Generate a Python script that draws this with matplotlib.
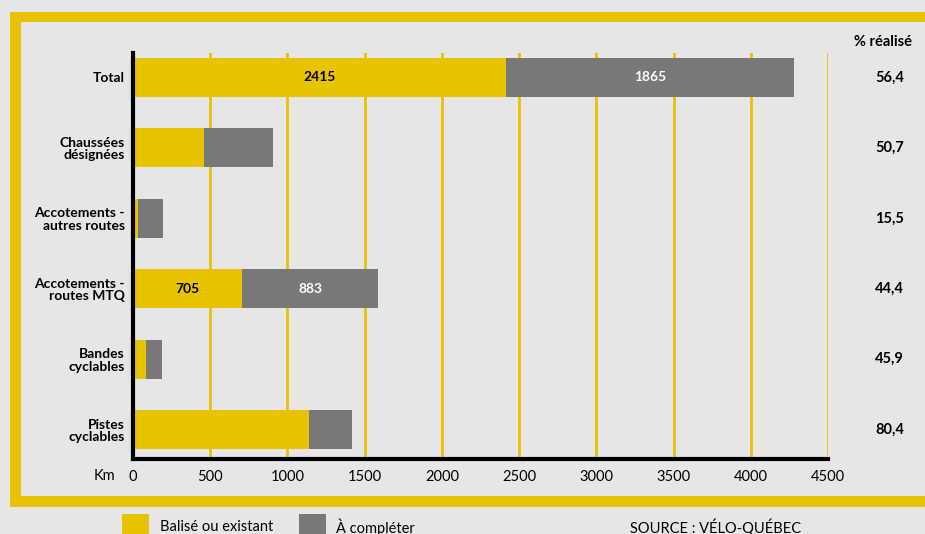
import matplotlib
matplotlib.use("Agg")
import matplotlib.pyplot as plt
from matplotlib.patches import Rectangle

# data
categories = ["Total", "Chaussées\ndésignées", "Accotements -\nautres routes",
              "Accotements -\nroutes MTQ", "Bandes\ncyclables", "Pistes\ncyclables"]
balise = [2415, 459, 30, 705, 85, 1140]
a_completer = [1865, 446, 164, 883, 100, 278]
pct_realise = ["56,4", "50,7", "15,5", "44,4", "45,9", "80,4"]
# only some bars carry their values
labelled = [0, 3]
xticks = [0, 500, 1000, 1500, 2000, 2500, 3000, 3500, 4000, 4500]

YELLOW = "#E8C300"
GREY = "#787878"
BG = "#E6E6E6"

plt.rcParams["font.family"] = ["Lato", "DejaVu Sans"]

fig = plt.figure(figsize=(9.25, 5.34), dpi=100)
fig.patch.set_facecolor(BG)

# yellow frame
fig.patches.append(Rectangle((10 / 925, 27 / 534), 1.0, 495 / 534,
                             transform=fig.transFigure, facecolor=YELLOW,
                             edgecolor="none", zorder=-2))
fig.patches.append(Rectangle((21 / 925, 38 / 534), 1.0, 474 / 534,
                             transform=fig.transFigure, facecolor=BG,
                             edgecolor="none", zorder=-1))

ax = fig.add_axes([133 / 925, 75 / 534, 695 / 925, 406 / 534])
ax.set_zorder(1)
ax.set_facecolor("none")

y = list(range(len(categories)))
ax.barh(y, balise, height=0.555, color=YELLOW, zorder=3)
ax.barh(y, a_completer, left=balise, height=0.555, color=GREY, zorder=3)

for i in labelled:
    ax.text(balise[i] / 2, i, str(balise[i]), ha="center", va="center",
            fontsize=10, fontweight="bold", color="black", zorder=4)
    ax.text(balise[i] + a_completer[i] / 2, i, str(a_completer[i]),
            ha="center", va="center", fontsize=10, fontweight="bold",
            color="white", zorder=4)

for x in xticks[1:]:
    ax.axvline(x, color=YELLOW, lw=2, zorder=1)

ax.set_xlim(0, 4500)
ax.set_ylim(5.419, -0.348)
ax.set_xticks(xticks)
ax.set_xticklabels([str(v) for v in xticks], fontsize=10.5)
ax.set_yticks(y)
ax.set_yticklabels(categories, fontsize=10, fontweight="bold", linespacing=1.05)
ax.tick_params(axis="x", length=0, pad=8)
ax.tick_params(axis="y", length=0, pad=6)

for s in ["top", "right"]:
    ax.spines[s].set_visible(False)
for s in ["left", "bottom"]:
    ax.spines[s].set_linewidth(3)
    ax.spines[s].set_color("black")
    ax.spines[s].set_zorder(5)

ax.text(-0.025, -0.042, "Km", transform=ax.transAxes, ha="right",
        va="center", fontsize=10.5)

# % réalisé column
fig.text(883 / 925, 1 - 42 / 534, "% réalisé", ha="center", va="center",
         fontsize=10.5, fontweight="bold")
for i, p in enumerate(pct_realise):
    ax.text(4900, i, p, ha="center", va="center", fontsize=10.5,
            fontweight="bold", clip_on=False)

# legend
fig.patches.append(Rectangle((122 / 925, 0), 27 / 925, 20 / 534,
                             transform=fig.transFigure, facecolor=YELLOW,
                             edgecolor="none"))
fig.text(160 / 925, 1 - 527 / 534, "Balisé ou existant", ha="left",
         va="center", fontsize=10.5)
fig.patches.append(Rectangle((299 / 925, 0), 27 / 925, 20 / 534,
                             transform=fig.transFigure, facecolor=GREY,
                             edgecolor="none"))
fig.text(336 / 925, 1 - 527 / 534, "À compléter", ha="left", va="center",
         fontsize=10.5)
fig.text(630 / 925, 1 - 527 / 534, "SOURCE : VÉLO-QUÉBEC", ha="left",
         va="center", fontsize=10.5)

fig.savefig("out.png", dpi=100, facecolor=BG)
